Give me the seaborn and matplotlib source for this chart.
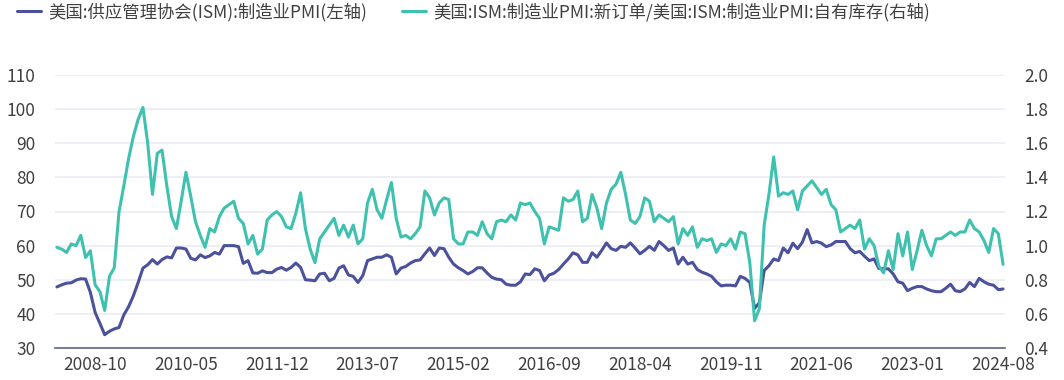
import numpy as np
import pandas as pd
import matplotlib
matplotlib.use('Agg')
import matplotlib.pyplot as plt
import seaborn as sns

# monthly, 2008-02 .. 2024-08
dates = pd.date_range('2008-02-01', '2024-08-01', freq='MS').strftime('%Y-%m').tolist()

pmi = [
    47.9, 48.5, 49.0, 49.1, 49.9, 50.3, 50.2, 46.3, 40.4, 37.2,
    33.9, 34.9, 35.6, 36.0, 39.7, 42.1, 45.3, 49.2, 53.4, 54.4,
    55.9, 54.6, 55.9, 56.7, 56.4, 59.3, 59.3, 59.0, 56.3, 55.8,
    57.3, 56.5, 57.0, 58.0, 57.5, 60.0, 60.0, 60.0, 59.7, 54.8,
    55.6, 52.0, 51.9, 52.6, 52.1, 52.1, 53.1, 53.6, 52.8, 53.6,
    54.9, 53.6, 50.0, 49.9, 49.7, 51.7, 51.9, 49.7, 50.4, 53.4,
    54.1, 51.4, 51.0, 49.2, 51.2, 55.6, 56.1, 56.6, 56.6, 57.3,
    56.6, 51.7, 53.4, 53.9, 54.9, 55.6, 55.8, 57.6, 59.3, 57.1,
    59.3, 59.1, 56.6, 54.6, 53.5, 52.7, 51.7, 52.4, 53.5, 53.5,
    52.0, 50.7, 50.2, 50.0, 48.7, 48.4, 48.4, 49.4, 51.7, 51.5,
    53.2, 52.7, 49.7, 51.4, 51.9, 53.0, 54.6, 56.1, 57.9, 57.3,
    55.1, 55.1, 57.9, 56.6, 58.6, 60.8, 59.1, 58.6, 59.8, 59.5,
    60.8, 59.3, 57.6, 58.6, 59.8, 58.6, 61.2, 60.0, 58.6, 59.3,
    54.6, 56.6, 54.6, 55.1, 53.0, 52.2, 51.7, 51.0, 49.4, 48.2,
    48.4, 48.4, 48.2, 51.0, 50.4, 49.2, 41.6, 43.3, 52.7, 54.1,
    56.1, 55.6, 59.3, 57.9, 60.7, 59.1, 61.0, 64.7, 60.8, 61.2,
    60.7, 59.7, 60.2, 61.2, 61.2, 61.2, 59.1, 57.9, 58.3, 56.9,
    55.6, 56.1, 53.3, 53.2, 53.2, 51.7, 49.4, 49.0, 46.8, 47.5,
    48.0, 48.0, 47.3, 46.8, 46.5, 46.5, 47.5, 48.7, 46.8, 46.5,
    47.3, 49.2, 48.0, 50.4, 49.4, 48.7, 48.4, 47.1, 47.3,
]

ratio = [
    0.99, 0.98, 0.96, 1.01, 1.00, 1.06, 0.93, 0.97, 0.77, 0.73,
    0.62, 0.82, 0.87, 1.20, 1.35, 1.51, 1.64, 1.74, 1.81, 1.60,
    1.30, 1.54, 1.56, 1.35, 1.17, 1.10, 1.26, 1.43, 1.29, 1.14,
    1.06, 0.99, 1.10, 1.08, 1.17, 1.22, 1.24, 1.26, 1.16, 1.13,
    1.01, 1.06, 0.95, 0.98, 1.15, 1.18, 1.20, 1.17, 1.11, 1.10,
    1.19, 1.31, 1.10, 0.98, 0.90, 1.04, 1.08, 1.12, 1.16, 1.06,
    1.12, 1.05, 1.12, 1.01, 1.04, 1.25, 1.33, 1.21, 1.16, 1.27,
    1.37, 1.16, 1.05, 1.06, 1.04, 1.07, 1.11, 1.32, 1.28, 1.18,
    1.25, 1.28, 1.27, 1.04, 1.01, 1.01, 1.08, 1.08, 1.06, 1.14,
    1.07, 1.04, 1.14, 1.15, 1.14, 1.18, 1.15, 1.25, 1.24, 1.25,
    1.20, 1.16, 1.01, 1.11, 1.10, 1.09, 1.28, 1.26, 1.27, 1.32,
    1.14, 1.16, 1.30, 1.22, 1.10, 1.25, 1.33, 1.36, 1.43, 1.30,
    1.15, 1.13, 1.17, 1.28, 1.26, 1.14, 1.18, 1.16, 1.14, 1.17,
    1.01, 1.10, 1.06, 1.11, 0.99, 1.04, 1.03, 1.04, 0.96, 1.01,
    1.00, 1.04, 0.98, 1.08, 1.07, 0.90, 0.56, 0.63, 1.12, 1.30,
    1.52, 1.29, 1.31, 1.30, 1.32, 1.21, 1.32, 1.35, 1.38, 1.34,
    1.30, 1.33, 1.24, 1.21, 1.08, 1.10, 1.12, 1.10, 1.15, 0.98,
    1.04, 1.00, 0.88, 0.84, 0.97, 0.86, 1.07, 0.94, 1.08, 0.86,
    0.97, 1.09, 1.00, 0.94, 1.04, 1.04, 1.06, 1.08, 1.06, 1.08,
    1.08, 1.15, 1.10, 1.08, 1.03, 0.96, 1.10, 1.07, 0.89,
]

name_pmi = '美国:供应管理协会(ISM):制造业PMI(左轴)'
name_ratio = '美国:ISM:制造业PMI:新订单/美国:ISM:制造业PMI:自有库存(右轴)'

df = pd.DataFrame({'date': dates, 'pmi': pmi, 'ratio': ratio})
df['x'] = np.arange(len(df))

sns.set_theme(style='white')
plt.rcParams['font.family'] = ['Noto Sans CJK SC', 'DejaVu Sans']

c_pmi = '#4c519c'
c_ratio = '#3fc1b0'
txt = '#404040'

fig = plt.figure(figsize=(10.64, 3.8), dpi=100)
ax = fig.add_axes([55 / 1064, 32 / 380, 950 / 1064, 273 / 380])
ax2 = ax.twinx()

sns.lineplot(data=df, x='x', y='pmi', ax=ax, color=c_pmi, linewidth=2.2, label=name_pmi, legend=False)
sns.lineplot(data=df, x='x', y='ratio', ax=ax2, color=c_ratio, linewidth=2.2, label=name_ratio, legend=False)

ax.set_xlim(-0.4, len(df) - 1 + 0.4)
ax.set_ylim(30, 110)
ax.set_yticks(np.arange(30, 111, 10))
ax2.set_ylim(0.4, 2.0)
ax2.set_yticks(np.arange(0.4, 2.01, 0.2))
ax2.set_yticklabels([f'{v:.1f}' for v in np.arange(0.4, 2.01, 0.2)])

tick_pos = list(range(8, len(df), 19))
ax.set_xticks(tick_pos)
ax.set_xticklabels([dates[i] for i in tick_pos])

ax.grid(axis='y', color='#ebecf5', linewidth=1.2)
ax.set_axisbelow(True)
ax.set_xlabel('')
ax.set_ylabel('')
ax2.set_ylabel('')

for a in (ax, ax2):
    for s in ('top', 'left', 'right', 'bottom'):
        a.spines[s].set_visible(False)
ax.spines['bottom'].set_visible(True)
ax.spines['bottom'].set_color('#5d6391')
ax.spines['bottom'].set_linewidth(1.2)

ax.tick_params(axis='x', length=0, pad=6, labelsize=12.5, labelcolor=txt)
ax.tick_params(axis='y', length=0, pad=14, labelsize=12.5, labelcolor=txt)
ax2.tick_params(axis='y', length=0, pad=14, labelsize=12.5, labelcolor=txt)

h1, l1 = ax.get_legend_handles_labels()
h2, l2 = ax2.get_legend_handles_labels()
fig.legend(h1 + h2, l1 + l2, loc='center left', bbox_to_anchor=(17 / 1064, 1 - 12 / 380), ncol=2,
           frameon=False, fontsize=12.5, handlelength=1.4, handletextpad=0.4, borderpad=0,
           borderaxespad=0, columnspacing=2.0, labelcolor=txt)

fig.savefig('out.png', dpi=100)
